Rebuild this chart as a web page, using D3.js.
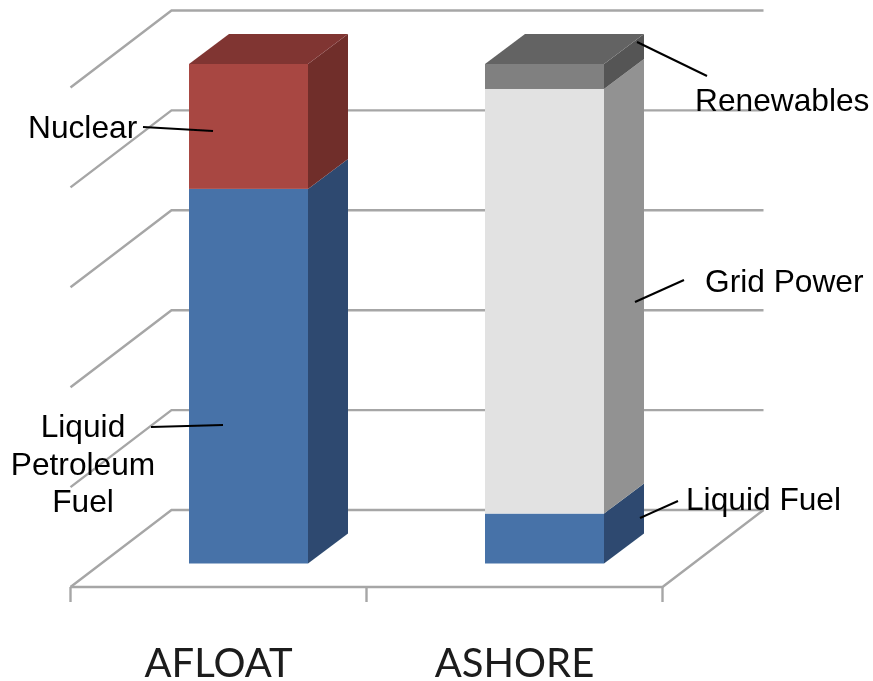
<!DOCTYPE html>
<html><head><meta charset="utf-8">
<script src="https://cdn.jsdelivr.net/npm/d3@7"></script>
<style>html,body{margin:0;padding:0;background:#fff}svg{display:block}</style>
</head><body><svg id="c" width="873" height="681"></svg>
<script>
const categories = ["AFLOAT", "ASHORE"];
const seriesNames = ["Liquid", "Nuclear", "Grid", "Renewables"];
const liquid = [75, 10];
const nuclear = [25, 0];
const grid = [0, 85];
const renewables = [0, 5];
const seriesColors = {
  Liquid: ["#4672a8", "#2d4a6f", "#35557f"],
  Nuclear: ["#a84642", "#6f2d2b", "#803533"],
  Grid: ["#e2e2e2", "#929292", "#a8a8a8"],
  Renewables: ["#808080", "#555555", "#636363"]
};
const notes = [
  {lines:["Nuclear"], x:28, y:138, anchor:"start", from:[143,127], to:[213,131]},
  {lines:["Liquid","Petroleum","Fuel"], x:83, y:437, anchor:"middle", from:[151,427], to:[223,425]},
  {lines:["Renewables"], x:695, y:111, anchor:"start", from:[637,42], to:[707,76]},
  {lines:["Grid Power"], x:705, y:292, anchor:"start", from:[635,302], to:[684,280]},
  {lines:["Liquid Fuel"], x:686, y:510, anchor:"start", from:[640,518], to:[678,501]}
];

const svg = d3.select("#c");
svg.append("filter").attr("id","soft").attr("filterUnits","userSpaceOnUse")
  .attr("x",0).attr("y",0).attr("width",873).attr("height",681)
  .append("feGaussianBlur").attr("stdDeviation",0.55);
const root = svg.append("g").attr("filter","url(#soft)");

const x = d3.scaleBand().domain(categories).range([70.5, 662.5]);
const y = d3.scaleLinear().domain([0, 100]).range([563.5, 64]);
const barOffset = 118.5, barW = 119;
const depthX = 40, depthY = 30;            // bar depth
const frontDrop = 23.5, wallX = 101, wallY = 77; // floor depth
const gridColor = "#a6a6a6";

const rows = categories.map((c, i) => ({cat:c, Liquid:liquid[i], Nuclear:nuclear[i], Grid:grid[i], Renewables:renewables[i]}));
const stacked = d3.stack().keys(seriesNames)(rows);

// walls and floor
const g = root.append("g").attr("fill","none").attr("stroke",gridColor).attr("stroke-width",2.4);
const x0 = x.range()[0], x1 = x.range()[1];
y.ticks(5).forEach(v => {
  const fy = y(v) + frontDrop;
  g.append("path").attr("d", d3.line()([[x0, fy],[x0+wallX, fy-wallY],[x1+wallX, fy-wallY]]));
});
const fy0 = y(0) + frontDrop;
g.append("path").attr("d", d3.line()([[x0,fy0],[x1,fy0],[x1+wallX,fy0-wallY]]));

// category axis
const axis = d3.axisBottom(x).tickSize(0);
const ax = root.append("g").attr("transform",`translate(0,${fy0})`).call(axis);
ax.select(".domain").remove();
ax.selectAll("text").attr("font-family","Lato, 'Open Sans', sans-serif").attr("font-size",40).attr("fill","#1a1a1a").attr("dy",0)
  .attr("y",90);
[...categories.map(c => x(c)), x1].forEach(t => {
  g.append("line").attr("x1",t).attr("x2",t).attr("y1",fy0).attr("y2",fy0+15);
});

// bars
categories.forEach((c, i) => {
  const bx = x(c) + barOffset;
  const bar = root.append("g");
  let topSeg = null;
  stacked.forEach(s => {
    const [a, b] = s[i];
    if (b - a <= 0) return;
    const col = seriesColors[s.key];
    const ya = y(a), yb = y(b);
    bar.append("polygon").attr("fill",col[1]).attr("points",[
      [bx+barW,ya],[bx+barW+depthX,ya-depthY],[bx+barW+depthX,yb-depthY],[bx+barW,yb]].join(" "));
    bar.append("rect").attr("x",bx).attr("y",yb).attr("width",barW).attr("height",ya-yb).attr("fill",col[0]);
    topSeg = {yb, col};
  });
  bar.append("polygon").attr("fill",topSeg.col[2]).attr("points",[
    [bx,topSeg.yb],[bx+depthX,topSeg.yb-depthY],[bx+barW+depthX,topSeg.yb-depthY],[bx+barW,topSeg.yb]].join(" "));
});

// callouts
const ann = root.append("g");
notes.forEach(n => {
  ann.append("line").attr("x1",n.from[0]).attr("y1",n.from[1]).attr("x2",n.to[0]).attr("y2",n.to[1])
    .attr("stroke","#000").attr("stroke-width",2);
  n.lines.forEach((t, k) => {
    ann.append("text").attr("x",n.x).attr("y",n.y+k*37.5).attr("text-anchor",n.anchor)
      .attr("font-family","'Liberation Sans', Arial, sans-serif").attr("font-size",31.7).attr("fill","#000").text(t);
  });
});
</script></body></html>
